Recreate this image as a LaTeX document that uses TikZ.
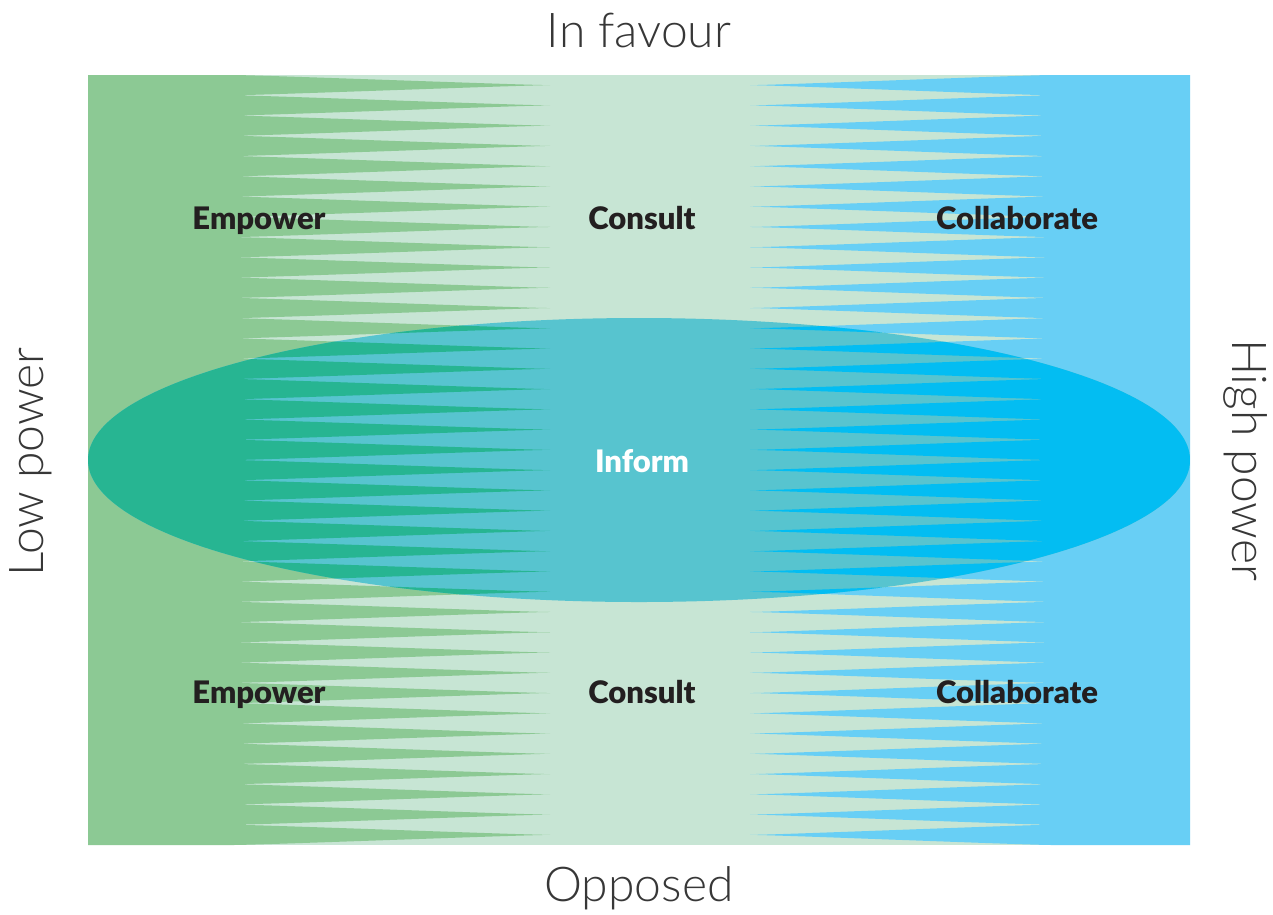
\documentclass[tikz,border=0pt]{standalone}
\usepackage{fontspec}
\setmainfont{Lato}
\newfontfamily\latolight{Lato Light}
\newfontfamily\latoblack{Lato Black}
\definecolor{gOut}{RGB}{140,201,148}
\definecolor{lOut}{RGB}{199,229,212}
\definecolor{bOut}{RGB}{104,207,245}
\definecolor{gIn}{RGB}{39,181,146}
\definecolor{lIn}{RGB}{87,196,207}
\definecolor{bIn}{RGB}{3,189,242}
\definecolor{axisgray}{RGB}{55,55,55}
\definecolor{labdark}{RGB}{35,31,32}
\def\pp{20.263}
\def\hp{10.1315}
\def\cg{25}
\newcommand\drawspikes[3]{%
  \fill[#2] (88,75) rectangle (1190,845);
  \fill[#1] (88,75) -- (233,75)
    \foreach \k in {0,...,37}{
      .. controls ({233+\cg},{75+\k*\pp}) and ({550-\cg},{75+\hp+\k*\pp}) .. ({550},{75+\hp+\k*\pp})
      .. controls ({550-\cg},{75+\hp+\k*\pp}) and ({233+\cg},{75+(\k+1)*\pp}) .. ({233},{75+(\k+1)*\pp})
    } -- (233,845) -- (88,845) -- cycle;
  \fill[#3] (1190,75) -- (1052,75)
    \foreach \k in {0,...,37}{
      .. controls ({1052-\cg},{75+\k*\pp}) and ({750+\cg},{75+\hp+\k*\pp}) .. ({750},{75+\hp+\k*\pp})
      .. controls ({750+\cg},{75+\hp+\k*\pp}) and ({1052-\cg},{75+(\k+1)*\pp}) .. ({1052},{75+(\k+1)*\pp})
    } -- (1052,845) -- (1190,845) -- cycle;
}
\begin{document}
\begin{tikzpicture}[x=1pt,y=-1pt,
  axislab/.style={font=\latolight\fontsize{48}{48}\selectfont, text=axisgray, inner sep=0pt},
  catlab/.style={font=\latoblack\fontsize{31}{31}\selectfont, text=labdark, inner sep=0pt, anchor=base},
  inflab/.style={font=\latoblack\fontsize{31}{31}\selectfont, text=white, inner sep=0pt, anchor=base}]
\useasboundingbox (0,0) rectangle (1273,914);
\fill[white] (0,0) rectangle (1273,914);
\drawspikes{gOut}{lOut}{bOut}
\begin{scope}
  \clip (639,460) ellipse [x radius=551, y radius=142];
  \drawspikes{gIn}{lIn}{bIn}
\end{scope}
\node[axislab] (favour) at (639,30) {In favour};
\node[axislab] (opposed) at (639,888) {Opposed};
\node[axislab, rotate=90] (low) at (31,462) {Low power};
\node[axislab, rotate=-90] (high) at (1245,460) {High power};
\node[catlab] (emp1) at (259,229) {Empower};
\node[catlab] (con1) at (642,229) {Consult};
\node[catlab] (col1) at (1017,229) {Collaborate};
\node[inflab] (inf) at (642,472) {Inform};
\node[catlab] (emp2) at (259,703) {Empower};
\node[catlab] (con2) at (642,703) {Consult};
\node[catlab] (col2) at (1017,703) {Collaborate};
\end{tikzpicture}
\end{document}
